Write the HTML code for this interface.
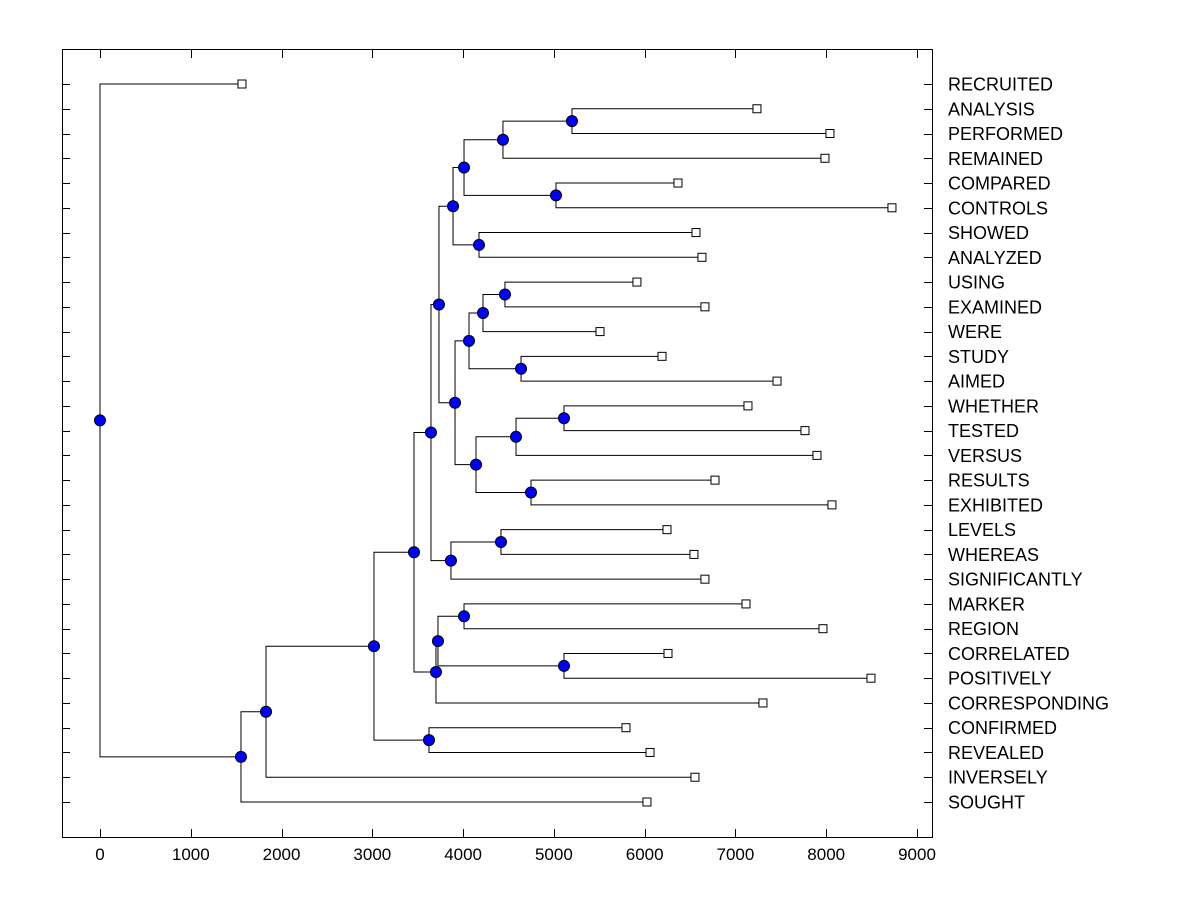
<!DOCTYPE html>
<html><head><meta charset="utf-8"><style>
html,body{margin:0;padding:0;background:#fff}
svg{display:block}
text{font-family:"Liberation Sans",Arial,sans-serif}
</style></head><body>
<svg id="chart" width="1200" height="900" viewBox="0 0 1200 900" xmlns="http://www.w3.org/2000/svg">
<rect x="62.5" y="49.5" width="870" height="788" fill="none" stroke="#000" stroke-width="1"/>
<g id="g"></g>
</svg>
<script>
const labels=["RECRUITED","ANALYSIS","PERFORMED","REMAINED","COMPARED","CONTROLS","SHOWED","ANALYZED","USING","EXAMINED","WERE","STUDY","AIMED","WHETHER","TESTED","VERSUS","RESULTS","EXHIBITED","LEVELS","WHEREAS","SIGNIFICANTLY","MARKER","REGION","CORRELATED","POSITIVELY","CORRESPONDING","CONFIRMED","REVEALED","INVERSELY","SOUGHT"];
const leafValues=[1564,7237,8041,7986,6367,8724,6565,6631,5915,6664,5508,6191,7458,7138,7766,7898,6775,8063,6246,6543,6664,7116,7964,6257,8493,7303,5794,6059,6554,6025];
const mergeChildren=[
["L1","L2"],["N0","L3"],["L4","L5"],["N1","N2"],["L6","L7"],["N3","N4"],
["L8","L9"],["N6","L10"],["L11","L12"],["N7","N8"],["L13","L14"],["N10","L15"],
["L16","L17"],["N11","N12"],["N9","N13"],["N5","N14"],["L18","L19"],["N16","L20"],
["N15","N17"],["L21","L22"],["L23","L24"],["N19","N20"],["N21","L25"],["N18","N22"],
["L26","L27"],["N23","N24"],["N25","L28"],["N26","L29"],["L0","N27"]];
const mergeHeights=[5199,4439,5023,4010,4175,3889,4461,4219,4638,4065,5111,4583,4748,4142,3911,3734,4417,3866,3646,4010,5111,3723,3701,3459,3624,3018,1829,1553,0];
const xTicks=[0,1000,2000,3000,4000,5000,6000,7000,8000,9000];

const NS="http://www.w3.org/2000/svg";
const g=document.getElementById('g');
const X=v=>100+v*(817/9000);
const Y=i=>84+i*(718/29);
function mk(t,a){const e=document.createElementNS(NS,t);for(const k in a)e.setAttribute(k,a[k]);g.appendChild(e);return e;}

xTicks.forEach(t=>{
  const x=Math.round(X(t))+0.5;
  const a=mk('line',{x1:x,x2:x,y1:837,y2:829,stroke:'#000'});
  
  
  const b=mk('line',{x1:x,x2:x,y1:50,y2:58,stroke:'#000'});
  
  
  const tx=mk('text',{x:X(t),y:860,'text-anchor':'middle','font-size':17});
  tx.textContent=t;
  
  
});
labels.forEach((l,i)=>{
  const y=Math.round(Y(i))+0.5;
  const a=mk('line',{x1:62,x2:70,y1:y,y2:y,stroke:'#000'});
  
  
  const b=mk('line',{x1:924,x2:932,y1:y,y2:y,stroke:'#000'});
  
  
  const t=mk('text',{x:948,y:Y(i)+6.5,'font-size':18});
  t.textContent=l;
  
  
});
const pos={};
leafValues.forEach((v,i)=>pos['L'+i]={x:X(v),y:Y(i)});
mergeChildren.forEach((c,i)=>{
  const a=pos[c[0]],b=pos[c[1]],x=X(mergeHeights[i]);
  pos['N'+i]={x:x,y:(a.y+b.y)/2};
  const p=mk('path',{d:`M${a.x} ${a.y}H${x}V${b.y}H${b.x}`,fill:'none',stroke:'#000','stroke-width':1});
  
  
});
leafValues.forEach((v,i)=>{
  const p=pos['L'+i];
  const r=mk('rect',{x:p.x-4,y:p.y-4,width:8,height:8,fill:'#fff',stroke:'#000'});
  
  
});
mergeChildren.forEach((c,i)=>{
  const p=pos['N'+i];
  const d=mk('circle',{cx:p.x,cy:p.y,r:5.5,fill:'#0000ff',stroke:'#000','stroke-width':1});
  
  
});
</script>
</body></html>
